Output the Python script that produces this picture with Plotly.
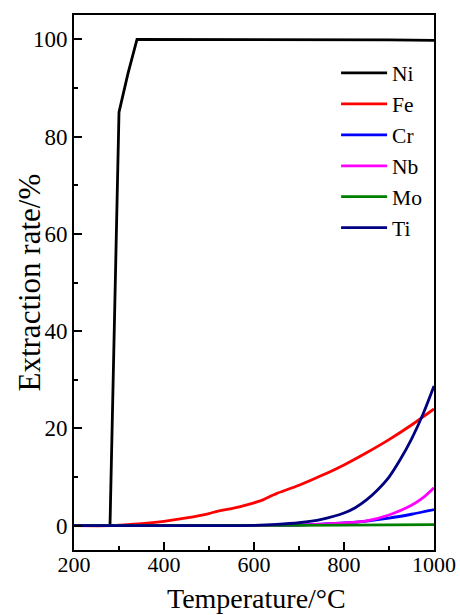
import plotly.graph_objects as go

# ---- data ----
ni_x = [200, 280, 300, 320, 340, 400, 500, 600, 700, 800, 900, 1000]
ni_y = [0, 0, 85, 93, 100, 100, 100, 100, 100, 100, 99.9, 99.8]

fe_x = [200, 280, 300, 350, 400, 450, 500, 520, 550, 600, 620, 640, 650, 700, 750, 800, 850, 900, 950, 1000]
fe_y = [0, 0, 0.1, 0.4, 0.9, 1.6, 2.5, 3.0, 3.5, 4.7, 5.3, 6.2, 6.6, 8.3, 10.3, 12.5, 15.0, 17.7, 20.7, 24.0]

cr_x = [200, 500, 600, 650, 700, 750, 800, 850, 900, 950, 1000]
cr_y = [0, 0, 0.02, 0.05, 0.12, 0.3, 0.55, 0.95, 1.55, 2.35, 3.3]

nb_x = [200, 500, 600, 650, 700, 750, 800, 850, 900, 950, 975, 1000]
nb_y = [0, 0, 0.02, 0.05, 0.12, 0.3, 0.55, 1.0, 2.2, 4.2, 5.7, 7.8]

mo_x = [200, 600, 800, 1000]
mo_y = [0, 0.05, 0.1, 0.2]

ti_x = [200, 500, 550, 600, 650, 700, 750, 800, 825, 850, 875, 900, 925, 950, 975, 1000]
ti_y = [0, 0, 0.02, 0.07, 0.25, 0.6, 1.3, 2.6, 3.7, 5.3, 7.4, 10.0, 13.6, 17.8, 22.8, 28.7]

series = [
    ("Ni", ni_x, ni_y, "#000000", "linear"),
    ("Fe", fe_x, fe_y, "#ff0000", "spline"),
    ("Cr", cr_x, cr_y, "#0000ff", "spline"),
    ("Nb", nb_x, nb_y, "#ff00ff", "spline"),
    ("Mo", mo_x, mo_y, "#008000", "spline"),
    ("Ti", ti_x, ti_y, "#000080", "spline"),
]

x_ticks = [200, 400, 600, 800, 1000]
y_ticks = [0, 20, 40, 60, 80, 100]
x_title = "Temperature/°C"
y_title = "Extraction rate/%"

FONT = "Liberation Serif"

fig = go.Figure()
for name, xs, ys, col, shape in series:
    fig.add_trace(go.Scatter(x=xs, y=ys, mode="lines", name=name,
                             line=dict(color=col, width=2.8, shape=shape, smoothing=0.8)))

axis_common = dict(
    showline=True, linecolor="black", linewidth=2, mirror=True,
    ticks="inside", ticklen=8, tickwidth=1.5, tickcolor="black",
    showgrid=False, zeroline=False, automargin=False,
)

fig.update_xaxes(range=[200, 1000], tickvals=x_ticks, ticklabelstandoff=-6,
                 tickfont=dict(family=FONT, size=22, color="black"),
                 minor=dict(ticks="inside", ticklen=4, tickwidth=1.5, dtick=100, tickcolor="black"),
                 **axis_common)
fig.update_yaxes(range=[-5, 105], tickvals=y_ticks,
                 tickfont=dict(family=FONT, size=23, color="black"),
                 minor=dict(ticks="inside", ticklen=4, tickwidth=1.5, dtick=10, tickcolor="black"),
                 **axis_common)

fig.add_annotation(text=x_title, xref="paper", yref="paper",
                   x=0.506, y=-0.0905, xanchor="center", yanchor="middle", showarrow=False,
                   font=dict(family=FONT, size=28, color="black"))
fig.add_annotation(text=y_title, textangle=-90, xref="paper", yref="paper",
                   x=-0.125, y=0.5, xanchor="center", yanchor="middle", showarrow=False,
                   font=dict(family=FONT, size=31, color="black"))

fig.update_layout(
    width=460, height=615,
    margin=dict(l=74, r=26, t=15, b=65),
    paper_bgcolor="white", plot_bgcolor="white",
    font=dict(family=FONT, color="black"),
    legend=dict(x=0.728, y=0.93, xanchor="left", yanchor="top",
                font=dict(family=FONT, size=21.5, color="black"),
                bgcolor="rgba(0,0,0,0)", tracegroupgap=0, itemwidth=46),
)

fig.write_html("out.html")
